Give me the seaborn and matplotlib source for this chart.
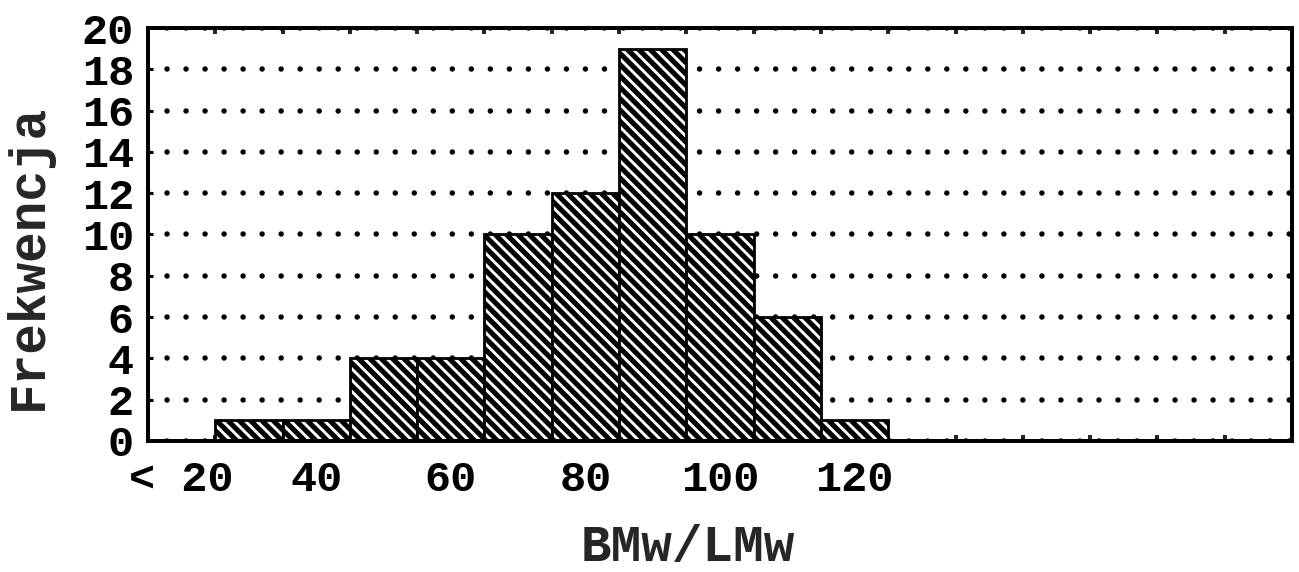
import numpy as np
import pandas as pd
import matplotlib
matplotlib.use("Agg")
import matplotlib.pyplot as plt
import seaborn as sns

# Histogram of the BMw/LMw ratio: class centres and their frequencies
bin_centres = [20, 30, 40, 50, 60, 70, 80, 90, 100, 110, 120,
               130, 140, 150, 160, 170, 180]
counts = [0, 1, 1, 4, 4, 10, 12, 19, 10, 6, 1, 0, 0, 0, 0, 0, 0]
x_tick_labels = ["< 20", "", "40", "", "60", "", "80", "", "100", "", "120",
                 "", "", "", "", "", ""]
y_ticks = list(range(0, 21, 2))

DPI = 136
W, H = 1299, 572

sns.set_style("ticks")
plt.rcParams["font.family"] = ["Liberation Mono", "DejaVu Sans Mono"]
plt.rcParams["font.weight"] = "bold"
plt.rcParams["hatch.linewidth"] = 2.7
plt.rcParams["hatch.color"] = "black"
plt.rcParams["lines.scale_dashes"] = False


def px(v):
    """Pixels to points at the figure resolution."""
    return v * 72.0 / DPI


fig = plt.figure(figsize=(W / DPI, H / DPI), dpi=DPI)
ax = fig.add_axes([148 / W, 131 / H, 1144 / W, 413 / H])

df = pd.DataFrame({"bin": bin_centres, "count": counts})
sns.barplot(data=df, x="bin", y="count", order=bin_centres, width=1.0,
            color="white", saturation=1, edgecolor="black",
            linewidth=px(2.8), hatch="\\\\\\\\", ax=ax, zorder=3)

ax.set_xlim(-0.5, len(bin_centres) - 0.5)
ax.set_ylim(0, 20)

# dotted horizontal grid behind the bars
ax.set_axisbelow(True)
ax.yaxis.grid(True, color="black", linewidth=px(5.5),
              linestyle=(0, (0.01, px(19))), dash_capstyle="round")
ax.xaxis.grid(False)

ax.set_yticks(y_ticks)
ax.set_yticklabels([str(v) for v in y_ticks])
ax.set_xticks(range(len(bin_centres)))
ax.set_xticklabels(x_tick_labels)
ax.set_xticks(np.arange(0.5, len(bin_centres) - 1, 1.0), minor=True)

ax.tick_params(axis="y", which="major", direction="in", length=px(5),
               width=px(3), left=True, right=True, labelsize=23,
               pad=px(14), colors="black")
ax.tick_params(axis="x", which="major", length=0, labelsize=23,
               pad=px(19), colors="black")
ax.tick_params(axis="x", which="minor", direction="in", length=px(6),
               width=px(4), top=True, bottom=True)

for s in ax.spines.values():
    s.set_visible(True)
    s.set_linewidth(px(4))
    s.set_color("black")
    s.set_zorder(5)

ax.set_xlabel("BMw/LMw", fontsize=27, fontweight="bold")
ax.set_ylabel("Frekwencja", fontsize=27, fontweight="bold")
ax.xaxis.set_label_coords((688 - 148) / 1144, (441 - 548) / 413)
ax.xaxis.label.set_va("center")
ax.yaxis.set_label_coords((28 - 148) / 1144, (441 - 257) / 413)
ax.yaxis.label.set_va("center")
ax.yaxis.label.set_ha("center")

fig.savefig("out.png", dpi=DPI, facecolor="white")
